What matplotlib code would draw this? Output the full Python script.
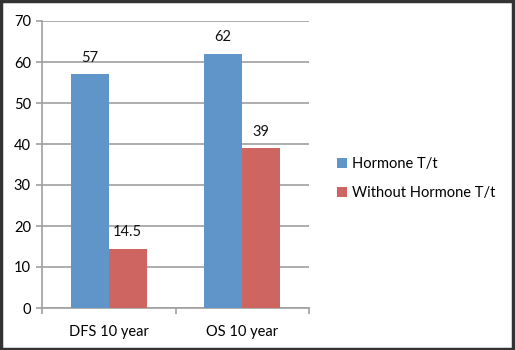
import numpy as np
import matplotlib.pyplot as plt
from matplotlib.patches import Rectangle

plt.rcParams['font.family'] = ['Lato', 'DejaVu Sans']

categories = ['DFS 10 year', 'OS 10 year']
series_names = ['Hormone T/t', 'Without Hormone T/t']
hormone = [57, 62]
without_hormone = [14.5, 39]
value_labels = [['57', '62'], ['14.5', '39']]

colors = ['#5F95C9', '#CF6560']
grid_color = '#a0a0a0'

fig = plt.figure(figsize=(5.15, 3.5), dpi=100)
ax = fig.add_axes([42 / 515, 1 - 308 / 350, 267 / 515, 287 / 350])

x = np.arange(len(categories))
bar_width = 0.285

for i, vals in enumerate([hormone, without_hormone]):
    pos = x + (i - 0.5) * bar_width
    ax.bar(pos, vals, bar_width, color=colors[i], label=series_names[i], zorder=3)
    for xp, v, txt in zip(pos, vals, value_labels[i]):
        ax.text(xp, v + 4.0, txt, ha='center', va='center', fontsize=10.5, color='#111111')

ax.set_xlim(-0.5, 1.5)
ax.set_ylim(0, 70)
ax.set_yticks(range(0, 71, 10))
ax.yaxis.grid(True, color=grid_color, linewidth=1.2, zorder=0)
ax.set_axisbelow(True)

ax.set_xticks([-0.5, 0.5, 1.5])
ax.set_xticklabels([])
ax.set_xticks(x, minor=True)
ax.set_xticklabels(categories, minor=True, fontsize=10.5)
ax.tick_params(axis='x', which='minor', length=0, pad=12)
ax.tick_params(axis='x', which='major', length=4, color=grid_color, width=1.2)
ax.tick_params(axis='y', length=4, color=grid_color, width=1.2, labelsize=10.5, pad=4)

for side in ['top', 'right']:
    ax.spines[side].set_visible(False)
for side in ['left', 'bottom']:
    ax.spines[side].set_color(grid_color)
    ax.spines[side].set_linewidth(1.2)

fig.legend(loc='upper left', bbox_to_anchor=(324 / 515, 1 - 144 / 350),
           frameon=False, fontsize=10.5, handlelength=0.7, handleheight=0.7,
           handletextpad=0.3, labelspacing=1.0)

fig.patches.append(Rectangle((0.002, 0.003), 0.994, 0.994, transform=fig.transFigure,
                             fill=False, edgecolor='#333333', linewidth=2.5))

fig.savefig('out.png', dpi=100)
